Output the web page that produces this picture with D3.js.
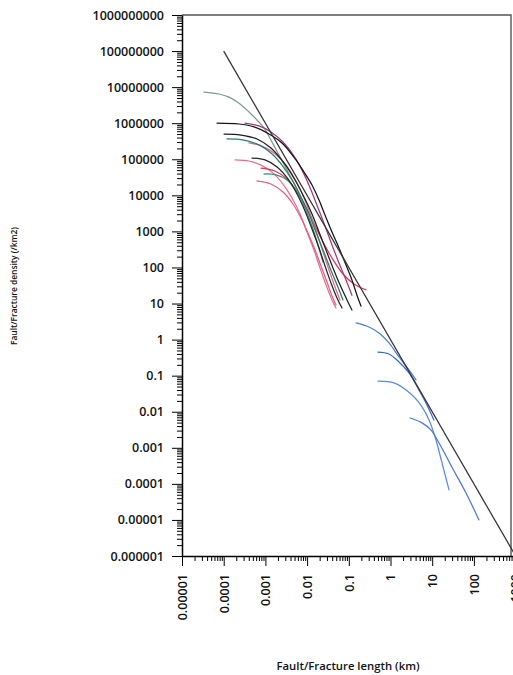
<!DOCTYPE html>
<html>
<head>
<meta charset="utf-8">
<script src="https://cdn.jsdelivr.net/npm/d3@7"></script>
<style>
  html, body { margin: 0; padding: 0; background: #fff; }
  svg { display: block; font-family: "Open Sans", "Liberation Sans", sans-serif; }
</style>
</head>
<body>
<svg id="chart" width="513" height="675"></svg>
<script>
// Tick values and their printed labels
const yTickValues = [1e-6, 1e-5, 1e-4, 1e-3, 1e-2, 1e-1, 1, 10, 100, 1e3, 1e4, 1e5, 1e6, 1e7, 1e8, 1e9];
const yTickLabels = ["0.000001", "0.00001", "0.0001", "0.001", "0.01", "0.1", "1", "10", "100",
  "1000", "10000", "100000", "1000000", "10000000", "100000000", "1000000000"];
const xTickValues = [1e-5, 1e-4, 1e-3, 1e-2, 1e-1, 1, 10, 100, 1000];
const xTickLabels = ["0.00001", "0.0001", "0.001", "0.01", "0.1", "1", "10", "100", "1000"];

// Reference power law, density = length^-2
const powerLaw = [[1e-4, 1e8], [1e3, 1e-6]];

// Cumulative fault/fracture density curves: [length km, density /km2]
const curveGreyGreen = [[3.37e-5, 7.3e6], [7.72e-5, 6.45e6], [1.34e-4, 5.3e6], [2.33e-4, 3.6e6], [4.04e-4, 2.05e6],
  [6.29e-4, 1.23e6], [9.26e-4, 7.4e5], [1.36e-3, 3.4e5], [2.12e-3, 1.31e5], [3.3e-3, 5.0e4], [5.13e-3, 1.94e4], [8.43e-3, 5.4e3]];
const curveBlackA = [[6.91e-5, 1.01e6], [2.33e-4, 9.5e5], [5.33e-4, 7.9e5], [1.22e-3, 5.02e5], [2.5e-3, 2.83e5],
  [5.42e-3, 9.6e4], [8.43e-3, 4.4e4], [0.0131, 1.94e4], [0.0193, 7.4e3], [0.0269, 2.85e3], [0.0395, 962],
  [0.0582, 347], [0.0857, 117], [0.119, 45], [0.157, 17], [0.196, 8.5]];
const curveBlackB = [[1.02e-4, 5.0e5], [2.6e-4, 4.7e5], [6.29e-4, 3.65e5], [1.36e-3, 2.05e5], [2.79e-3, 7.9e4],
  [5.13e-3, 2.67e4], [8.43e-3, 9.0e3], [0.0131, 3.04e3], [0.0193, 962], [0.0284, 305], [0.0418, 97],
  [0.0615, 33], [0.0905, 12.6], [0.119, 6.6]];
const curveTealC = [[1.2e-4, 3.65e5], [3.07e-4, 3.4e5], [7.02e-4, 2.5e5], [1.36e-3, 1.49e5], [2.5e-3, 6.9e4],
  [4.35e-3, 2.67e4], [7.14e-3, 9.0e3], [0.0111, 3.04e3], [0.0163, 962], [0.0241, 305], [0.0354, 97],
  [0.0521, 33], [0.0726, 12.6]];
const curvePinkD = [[1.87e-4, 9.6e4], [4.04e-4, 8.95e4], [7.84e-4, 6.9e4], [1.44e-3, 4.4e4], [2.64e-3, 2.06e4],
  [4.35e-3, 8.4e3], [6.76e-3, 3.04e3], [9.94e-3, 962], [0.0146, 305], [0.0204, 97], [0.0284, 33],
  [0.0395, 12.6], [0.0493, 7.5]];
const curveMagentaE = [[3.24e-4, 1.01e6], [7.02e-4, 8.4e5], [1.36e-3, 5.7e5], [2.64e-3, 3.0e5], [4.85e-3, 1.23e5],
  [7.97e-3, 4.4e4], [0.0124, 1.41e4], [0.0183, 4.46e3], [0.0269, 1.41e3], [0.0395, 421], [0.0582, 133],
  [0.0857, 45], [0.119, 17]];
const curveBlackF = [[4.77e-4, 1.08e5], [9.78e-4, 9.6e4], [1.9e-3, 6.1e4], [3.48e-3, 2.84e4], [5.73e-3, 1.09e4],
  [8.91e-3, 3.68e3], [0.0131, 1.17e3], [0.0193, 347], [0.0269, 110], [0.0374, 37], [0.0521, 14.3], [0.0687, 7.5]];
const curvePinkG = [[6.29e-4, 2.5e4], [1.36e-3, 2.06e4], [2.64e-3, 1.24e4], [4.59e-3, 5.75e3], [7.14e-3, 2.35e3],
  [0.0105, 903], [0.0155, 305], [0.0215, 110], [0.03, 39.5], [0.0395, 16.2], [0.0493, 9.1]];
const curveRedH = [[7.84e-4, 5.7e4], [1.7e-3, 4.73e4], [3.48e-3, 2.67e4], [6.39e-3, 1.02e4], [0.0117, 2.85e3],
  [0.0215, 658], [0.0395, 183], [0.0726, 65.9], [0.133, 34.8], [0.258, 24]];
const curvePinkM = [[4.04e-4, 2.83e5], [8.29e-4, 2.33e5], [1.61e-3, 1.49e5], [3.12e-3, 6.9e4], [5.42e-3, 2.5e4],
  [8.43e-3, 8.4e3], [0.0124, 2.67e3], [0.0173, 847], [0.0241, 269], [0.0335, 85], [0.0467, 28.7], [0.0615, 12.6]];
const curveTealI = [[9.26e-4, 3.9e4], [1.8e-3, 3.7e4], [3.3e-3, 2.67e4], [5.73e-3, 1.24e4], [8.91e-3, 4.46e3],
  [0.0131, 1.41e3], [0.0183, 421], [0.0241, 142]];
const curveBlue1 = [[0.149, 2.9], [0.305, 2.24], [0.53, 1.53], [0.92, 0.81], [1.6, 0.33], [2.78, 0.144], [4.09, 0.076]];
const curveBlue2 = [[0.5, 0.45], [0.92, 0.40], [1.6, 0.24], [2.78, 0.119], [4.8, 0.040], [7.1, 0.0175], [11, 0.0059]];
const curveBlue3 = [[0.5, 0.071], [1.21, 0.063], [3.3, 0.029], [5.7, 0.0136], [8.4, 0.0059], [12.3, 0.00165],
  [17.2, 0.00038], [25.3, 6.8e-5]];
const curveBlue4 = [[2.94, 0.0067], [5.7, 0.0049], [9.4, 0.0031], [14.6, 0.00136], [29.8, 0.00029], [64.7, 5.6e-5],
  [132, 1e-5]];

const seriesList = [
  { pts: curveGreyGreen, color: "#7c9c8c" },
  { pts: curvePinkD, color: "#e8708e" },
  { pts: curvePinkG, color: "#e0607e" },
  { pts: curveRedH, color: "#d83a55" },
  { pts: curvePinkM, color: "#dd6a96" },
  { pts: curveMagentaE, color: "#a03a80" },
  { pts: curveTealC, color: "#2f7a68" },
  { pts: curveTealI, color: "#3d8a76" },
  { pts: curveBlackB, color: "#1e1e1e" },
  { pts: curveBlackF, color: "#262626" },
  { pts: curveBlackA, color: "#141414" },
  { pts: curveBlue1, color: "#4d7fd2" },
  { pts: curveBlue2, color: "#3d6ac4" },
  { pts: curveBlue3, color: "#5b8ddb" },
  { pts: curveBlue4, color: "#4a7bd0" }
];

const x = d3.scaleLog().domain([1e-5, 1e3]).range([182, 515.6]);
const y = d3.scaleLog().domain([1e-6, 1e9]).range([556, 15]);

const svg = d3.select("#chart");

// Plot frame: top and right edges
svg.append("path")
  .attr("d", `M${x(1e-5)},${y(1e9)}H511V${y(1e-6)}`)
  .attr("fill", "none").attr("stroke", "#555").attr("stroke-width", 1.4);

const line = d3.line().x(d => x(d[0])).y(d => y(d[1])).curve(d3.curveCatmullRom.alpha(0.5));

const curves = svg.append("g").attr("fill", "none").attr("stroke-linecap", "round");
seriesList.forEach(s => {
  curves.append("path").attr("d", line(s.pts)).attr("stroke", s.color).attr("stroke-width", 1.25);
});

svg.append("path")
  .attr("d", d3.line().x(d => x(d[0])).y(d => y(d[1]))(powerLaw))
  .attr("fill", "none").attr("stroke", "#333").attr("stroke-width", 1.25);

// Minor tick positions: 2..9 within each decade
const yMinor = [], xMinor = [];
for (let e = -6; e < 9; e++) for (let m = 2; m <= 9; m++) yMinor.push(m * Math.pow(10, e));
for (let e = -5; e < 3; e++) for (let m = 2; m <= 9; m++) xMinor.push(m * Math.pow(10, e));

const axisFont = (g) => g.selectAll("text")
  .attr("font-family", "'Open Sans', sans-serif").attr("font-size", 12.5).attr("font-weight", 600).attr("fill", "#111");

// Y axis
svg.append("g").attr("transform", `translate(${x(1e-5)},0)`)
  .call(d3.axisLeft(y).tickValues(yMinor).tickSize(5).tickSizeOuter(0).tickFormat(""))
  .call(g => g.select(".domain").remove());
svg.append("g").attr("transform", `translate(${x(1e-5)},0)`)
  .call(d3.axisLeft(y).tickValues(yTickValues).tickSize(10).tickSizeOuter(0).tickPadding(8)
    .tickFormat((d, i) => yTickLabels[i]))
  .call(g => g.select(".domain").attr("stroke-width", 1.5))
  .call(axisFont);

// X axis
svg.append("g").attr("transform", `translate(0,${y(1e-6)})`)
  .call(d3.axisBottom(x).tickValues(xMinor).tickSize(5).tickSizeOuter(0).tickFormat(""))
  .call(g => g.select(".domain").remove());
svg.append("g").attr("transform", `translate(0,${y(1e-6)})`)
  .call(d3.axisBottom(x).tickValues(xTickValues).tickSize(10).tickSizeOuter(0)
    .tickFormat((d, i) => xTickLabels[i]))
  .call(g => g.select(".domain").attr("stroke-width", 1.5))
  .call(axisFont)
  .call(g => g.selectAll("text")
    .attr("transform", "rotate(-90)")
    .attr("text-anchor", "end")
    .attr("x", -18).attr("y", 0).attr("dy", "0.35em"));

// Axis titles
svg.append("text")
  .attr("x", 348).attr("y", 670)
  .attr("text-anchor", "middle")
  .attr("font-size", 11).attr("font-weight", 600).attr("fill", "#111")
  .attr("textLength", 143).attr("lengthAdjust", "spacingAndGlyphs")
  .text("Fault/Fracture length (km)");

svg.append("text")
  .attr("transform", "translate(17,286) rotate(-90)")
  .attr("text-anchor", "middle")
  .attr("font-size", 9.5).attr("font-weight", 600).attr("fill", "#111")
  .attr("textLength", 118).attr("lengthAdjust", "spacingAndGlyphs")
  .text("Fault/Fracture density (/km2)");
</script>
</body>
</html>
